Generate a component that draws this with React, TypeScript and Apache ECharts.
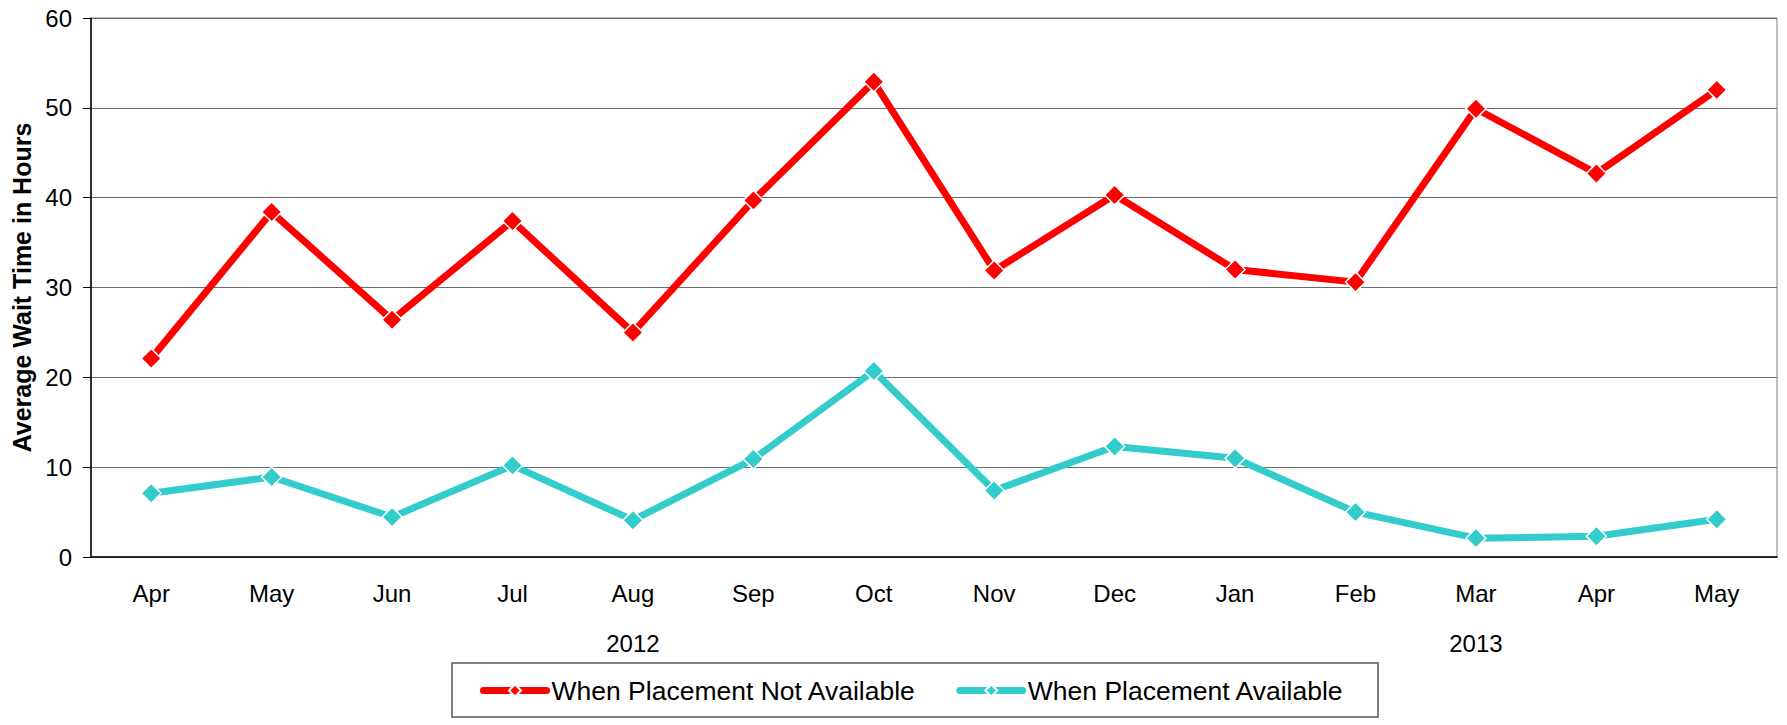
import React, { useEffect, useRef } from "react";
import * as echarts from "echarts";

const months = ["Apr", "May", "Jun", "Jul", "Aug", "Sep", "Oct", "Nov", "Dec", "Jan", "Feb", "Mar", "Apr", "May"];
const years = ["2012", "2013"];
const yearSpans = [[0, 8], [9, 13]];
const notAvailable = [22.1, 38.4, 26.4, 37.4, 25.0, 39.7, 52.9, 31.9, 40.3, 32.0, 30.6, 49.9, 42.7, 52.0];
const available = [7.1, 8.9, 4.45, 10.2, 4.1, 10.9, 20.7, 7.4, 12.3, 11.0, 5.0, 2.1, 2.3, 4.2];
const seriesNames = ["When Placement Not Available", "When Placement Available"];
const seriesColors = ["#FF0000", "#33CCCC"];

const FONT = "'Liberation Sans', Arial, sans-serif";

export default function App() {
  const ref = useRef<HTMLDivElement>(null);
  useEffect(() => {
    if (!ref.current) return;
    const chart = echarts.init(ref.current, undefined, { renderer: "svg" });
    const yearLabels = months.map(() => "");
    yearSpans.forEach((s, i) => {
      yearLabels[Math.round((s[0] + s[1]) / 2)] = years[i];
    });
    const mk = (name: string, data: number[], color: string) => ({
      name,
      type: "line",
      data,
      symbol: "diamond",
      symbolSize: 20,
      lineStyle: { color, width: 7 },
      itemStyle: { color, borderColor: "#ffffff", borderWidth: 1.5 },
      z: 3,
    });
    chart.setOption({
      animation: false,
      textStyle: { fontFamily: FONT },
      grid: { left: 91, right: 10, top: 18, bottom: 168, show: true, borderColor: "#808080", borderWidth: 1 },
      xAxis: [
        {
          type: "category",
          data: months,
          boundaryGap: true,
          axisLine: { lineStyle: { color: "#000", width: 1.5 } },
          axisTick: { show: false },
          axisLabel: { color: "#000", fontSize: 24, margin: 24, interval: 0, fontFamily: FONT },
        },
        {
          type: "category",
          data: months,
          position: "bottom",
          boundaryGap: true,
          axisLine: { show: false },
          axisTick: { show: false },
          splitLine: { show: false },
          axisLabel: {
            color: "#000",
            fontSize: 24,
            margin: 74,
            interval: 0,
            fontFamily: FONT,
            formatter: (_v: string, i: number) => yearLabels[i],
          },
        },
      ],
      yAxis: {
        type: "value",
        min: 0,
        max: 60,
        interval: 10,
        name: "Average Wait Time in Hours",
        nameLocation: "middle",
        nameGap: 57,
        nameTextStyle: { color: "#000", fontSize: 25, fontWeight: "bold", fontFamily: FONT },
        axisLine: { show: true, lineStyle: { color: "#000", width: 1.5 } },
        axisTick: { show: true, length: 8, lineStyle: { color: "#000" } },
        axisLabel: { color: "#000", fontSize: 24, margin: 19, fontFamily: FONT },
        splitLine: { lineStyle: { color: "#6b6b6b", width: 1 } },
      },
      legend: {
        data: seriesNames,
        left: 480,
        top: 677,
        padding: 0,
        itemGap: 40,
        itemWidth: 63,
        itemHeight: 15,
        lineStyle: { width: 7, cap: "round" },
        textStyle: { color: "#000", fontSize: 26.5, fontFamily: FONT },
      },
      graphic: [
        {
          type: "rect",
          shape: { x: 452, y: 663, width: 926, height: 54 },
          style: { fill: "none", stroke: "#555555", lineWidth: 1.5 },
          z: -1,
        },
      ],
      series: [
        mk(seriesNames[0], notAvailable, seriesColors[0]),
        mk(seriesNames[1], available, seriesColors[1]),
      ],
    });
    return () => chart.dispose();
  }, []);
  return <div ref={ref} style={{ position: "fixed", left: 0, top: 0, width: 1787, height: 725, background: "#fff" }} />;
}
